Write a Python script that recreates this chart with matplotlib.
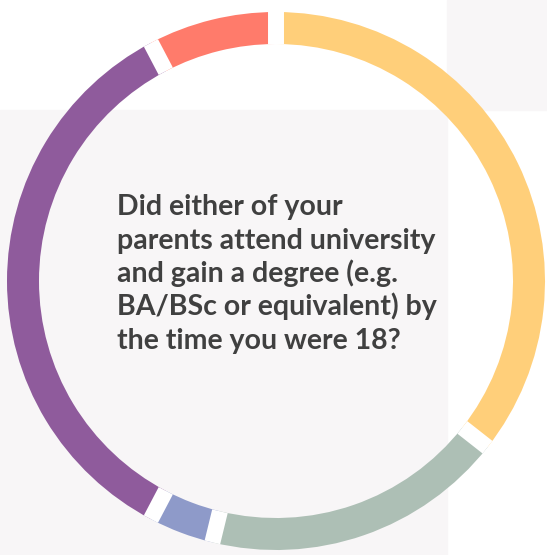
import numpy as np
import matplotlib.pyplot as plt
from matplotlib.patches import Rectangle

# share of answers, clockwise from the top
labels = ['Yes, both', 'Yes, one', "Don't know", 'No', 'Prefer not to say']
values = [35.6, 18.2, 3.9, 34.6, 7.7]
colors = ['#FFCF7A', '#ADBFB5', '#8E9AC9', '#8F5B9C', '#FF7B6B']

question = ['Did either of your',
            'parents attend university',
            'and gain a degree (e.g.',
            'BA/BSc or equivalent) by',
            'the time you were 18?']

W, H = 547, 555
fig = plt.figure(figsize=(W / 100, H / 100), dpi=100)
ax = fig.add_axes([0, 0, 1, 1])

bg = '#F8F6F7'
ax.add_patch(Rectangle((447, H - 110), 100, 110, color=bg, zorder=0))
ax.add_patch(Rectangle((0, 0), 447, H - 110, color=bg, zorder=0))

cx, cy = 276, H - 281
r_out, ring = 269, 32
ax.pie(values, colors=colors, startangle=90, counterclock=False,
       radius=r_out, center=(cx, cy), frame=True,
       wedgeprops=dict(width=ring, linewidth=0))
ax.set_xlim(0, W)
ax.set_ylim(0, H)
ax.set_aspect('equal')
ax.axis('off')

# white gaps between the segments
edges = 90 - np.cumsum([0] + values[:-1]) / 100 * 360
for a in np.radians(edges):
    ax.plot([cx + (r_out - ring) * np.cos(a), cx + r_out * np.cos(a)],
            [cy + (r_out - ring) * np.sin(a), cy + r_out * np.sin(a)],
            color='white', lw=11.5, solid_capstyle='butt', zorder=5)

for i, line in enumerate(question):
    ax.text(117, H - 215 - i * 33.5, line, fontsize=20.5, fontweight='bold',
            family=['Lato', 'DejaVu Sans'], color='#404040',
            ha='left', va='baseline')

fig.savefig('out.png', dpi=100)
